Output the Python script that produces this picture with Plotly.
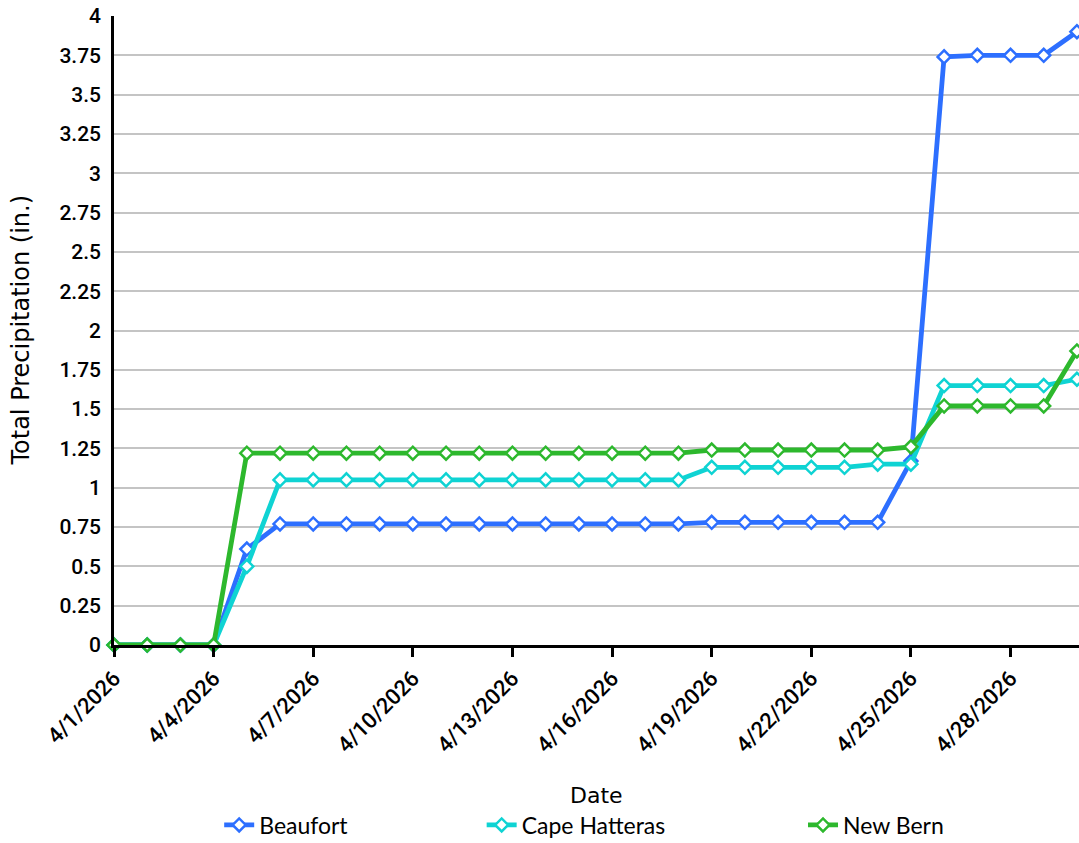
import plotly.graph_objects as go
import pandas as pd

dates = pd.date_range("2026-04-01", "2026-04-30", freq="D")

beaufort = [0, 0, 0, 0, 0.61, 0.77, 0.77, 0.77, 0.77, 0.77, 0.77, 0.77, 0.77, 0.77, 0.77,
            0.77, 0.77, 0.77, 0.78, 0.78, 0.78, 0.78, 0.78, 0.78, 1.17, 3.74, 3.75, 3.75, 3.75, 3.90]
cape_hatteras = [0, 0, 0, 0, 0.50, 1.05, 1.05, 1.05, 1.05, 1.05, 1.05, 1.05, 1.05, 1.05, 1.05,
                 1.05, 1.05, 1.05, 1.13, 1.13, 1.13, 1.13, 1.13, 1.15, 1.15, 1.65, 1.65, 1.65, 1.65, 1.69]
new_bern = [0, 0, 0, 0, 1.22, 1.22, 1.22, 1.22, 1.22, 1.22, 1.22, 1.22, 1.22, 1.22, 1.22,
            1.22, 1.22, 1.22, 1.24, 1.24, 1.24, 1.24, 1.24, 1.24, 1.26, 1.52, 1.52, 1.52, 1.52, 1.87]

series_names = ["Beaufort", "Cape Hatteras", "New Bern"]
series_colors = ["#2D6FFF", "#0FD3D3", "#2DB82D"]

y_tickvals = [0, 0.25, 0.5, 0.75, 1, 1.25, 1.5, 1.75, 2, 2.25, 2.5, 2.75, 3, 3.25, 3.5, 3.75, 4]
y_ticktext = ["0", "0.25", "0.5", "0.75", "1", "1.25", "1.5", "1.75", "2", "2.25", "2.5",
              "2.75", "3", "3.25", "3.5", "3.75", "4"]
x_tickvals = pd.date_range("2026-04-01", "2026-04-28", freq="3D")
x_ticktext = [f"{d.month}/{d.day}/{d.year}" for d in x_tickvals]

TICK_FONT = "Roboto"
TITLE_FONT = "DejaVu Sans"
LEGEND_FONT = "Lato"

fig = go.Figure()
legend_ids = ["legend", "legend2", "legend3"]
legend_x = [0.109, 0.381, 0.714]
for vals, name, color, lid in zip([beaufort, cape_hatteras, new_bern], series_names, series_colors, legend_ids):
    fig.add_trace(go.Scatter(
        x=dates, y=vals, name=name, mode="lines+markers",
        line=dict(color=color, width=4.8),
        marker=dict(symbol="diamond", size=10, color="white", line=dict(color=color, width=2.5)),
        cliponaxis=False, legend=lid, showlegend=True,
    ))

legend_common = dict(orientation="h", yanchor="middle", xanchor="left", yref="container",
                     font=dict(family=LEGEND_FONT, size=23, color="black"),
                     bgcolor="rgba(0,0,0,0)")
fig.update_layout(
    width=1079, height=843,
    margin=dict(l=114, r=0, t=16, b=198),
    paper_bgcolor="white", plot_bgcolor="white",
    showlegend=True,
    font=dict(family=TITLE_FONT, color="black"),
    legend=dict(x=legend_x[0], y=0.0214, **legend_common),
    legend2=dict(x=legend_x[1], y=0.0214, **legend_common),
    legend3=dict(x=legend_x[2], y=0.0214, **legend_common),
    xaxis=dict(
        range=[dates[0], pd.Timestamp("2026-04-30 01:30")],
        tickvals=x_tickvals, ticktext=x_ticktext, tickangle=-45,
        tickfont=dict(family=TICK_FONT, size=22, color="black", weight=500),
        showline=True, linecolor="black", linewidth=2.5,
        ticks="outside", ticklen=9, tickwidth=2.5, tickcolor="black",
        showgrid=False, zeroline=False, automargin=False,
    ),
    yaxis=dict(
        range=[0, 4],
        tickvals=y_tickvals, ticktext=y_ticktext,
        tickfont=dict(family=TICK_FONT, size=21, color="black", weight=500),
        showline=True, linecolor="black", linewidth=2.5, ticklabelstandoff=6,
        ticks="", showgrid=True, gridcolor="#C4C4C4", gridwidth=1.5, zeroline=False,
        automargin=False,
    ),
    annotations=[
        dict(text="Date", xref="paper", yref="paper", x=0.5, y=-0.240,
             xanchor="center", yanchor="middle", showarrow=False,
             font=dict(family=TITLE_FONT, size=22, color="black")),
        dict(text="Total Precipitation (in.)", xref="paper", yref="paper", x=-0.0974, y=0.5,
             xanchor="center", yanchor="middle", showarrow=False, textangle=-90,
             font=dict(family=TITLE_FONT, size=24, color="black")),
    ],
)

fig.write_html("out.html", config={"displayModeBar": False},
               post_script="document.body.style.margin='0';")
